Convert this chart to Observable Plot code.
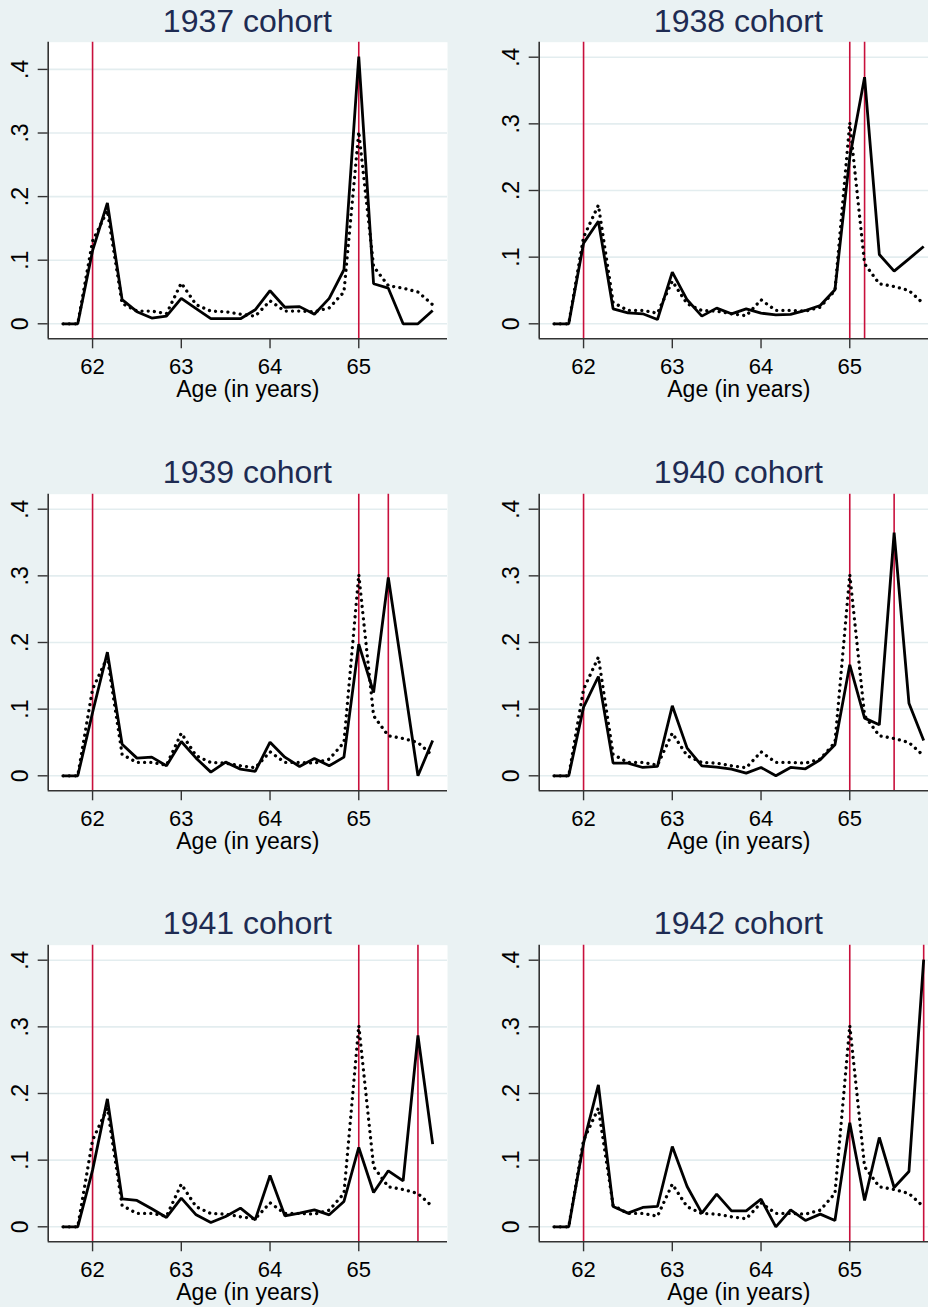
<!DOCTYPE html>
<html>
<head>
<meta charset="utf-8">
<script src="https://cdn.jsdelivr.net/npm/d3@7"></script>
<script src="https://cdn.jsdelivr.net/npm/@observablehq/plot@0.6"></script>
<style>
  html, body { margin: 0; padding: 0; }
  body { width: 928px; height: 1307px; overflow: hidden; position: relative; background: #EAF2F3;
         font-family: "Liberation Sans", Arial, sans-serif; }
  .panel { position: absolute; width: 491px; height: 451px; }
  .ttl { position: absolute; left: 47.7px; width: 399.3px; top: 4.6px; text-align: center;
         font-size: 32px; line-height: 32px; color: #1E2B52; white-space: nowrap; }
</style>
</head>
<body>
<script>
// ---- data ----
const ages = [61.667, 61.833, 62, 62.167, 62.333, 62.5, 62.667, 62.833, 63, 63.167, 63.333, 63.5, 63.667,
              63.833, 64, 64.167, 64.333, 64.5, 64.667, 64.833, 65, 65.167, 65.333, 65.5, 65.667, 65.833];
const cohorts = ["1937 cohort", "1938 cohort", "1939 cohort", "1940 cohort", "1941 cohort", "1942 cohort"];
const fullRetAge = [65, 65.167, 65.333, 65.5, 65.667, 65.833];
const earlyAge = 62;
const normalAge = 65;
const s1937 = [0, 0, 0.115, 0.19, 0.038, 0.019, 0.009, 0.012, 0.040, 0.024, 0.008, 0.008, 0.008, 0.022, 0.052,
               0.026, 0.027, 0.015, 0.040, 0.085, 0.42, 0.063, 0.056, 0, 0, 0.021];
const s1938 = [0, 0, 0.121, 0.154, 0.0225, 0.0165, 0.015, 0.0065, 0.0775, 0.036, 0.0115, 0.0235, 0.015, 0.0225,
               0.016, 0.0135, 0.014, 0.02, 0.0275, 0.051, 0.25, 0.37, 0.104, 0.079, 0.0975, 0.116];
const s1939 = [0, 0, 0.095, 0.1855, 0.0475, 0.0265, 0.028, 0.015, 0.0515, 0.0265, 0.0055, 0.0205, 0.01, 0.0065,
               0.0505, 0.028, 0.014, 0.026, 0.015, 0.028, 0.1975, 0.125, 0.2975, 0.149, 0, 0.053];
const s1940 = [0, 0, 0.103, 0.149, 0.019, 0.019, 0.0125, 0.014, 0.105, 0.0415, 0.015, 0.013, 0.01, 0.004,
               0.0125, 0, 0.0125, 0.0105, 0.024, 0.0465, 0.1665, 0.0865, 0.0765, 0.365, 0.109, 0.053];
const s1941 = [0, 0, 0.085, 0.192, 0.042, 0.0395, 0.027, 0.014, 0.043, 0.018, 0.0065, 0.0155, 0.028, 0.0105,
               0.077, 0.0165, 0.0205, 0.0255, 0.018, 0.038, 0.119, 0.0515, 0.084, 0.069, 0.287, 0.124];
const s1942 = [0, 0, 0.1255, 0.213, 0.0305, 0.0205, 0.029, 0.0305, 0.1205, 0.0605, 0.0205, 0.049, 0.024, 0.024,
               0.0415, 0, 0.0255, 0.0095, 0.019, 0.0095, 0.156, 0.0395, 0.134, 0.059, 0.083, 0.401];
const reference = [0, 0, 0.13, 0.178, 0.032, 0.02, 0.02, 0.016, 0.064, 0.03, 0.02, 0.019, 0.015, 0.012, 0.036,
                   0.02, 0.02, 0.019, 0.025, 0.05, 0.302, 0.09, 0.06, 0.056, 0.05, 0.03];
const xTicks = [62, 63, 64, 65];
const yTicks = [0, 0.1, 0.2, 0.3, 0.4];
const yTickLabels = ["0", ".1", ".2", ".3", ".4"];
const xTitle = "Age (in years)";
const series = [s1937, s1938, s1939, s1940, s1941, s1942];

// ---- layout / styling ----
const colLeft = [0, 491];
const rowTop = [0, 451.5, 902.5];
const RED = "#C8103C";
const AXIS = "#333333";
const GRID = "#E3EDEF";
const FONT = "'Liberation Sans', Arial, sans-serif";

cohorts.forEach((name, i) => {
  const row = Math.floor(i / 2), col = i % 2;
  const div = document.createElement("div");
  div.className = "panel";
  div.style.left = colLeft[col] + "px";
  div.style.top = rowTop[row] + "px";
  document.body.appendChild(div);

  const yDomain = i === 0 ? [-0.0236, 0.4428] : [-0.0225, 0.4225];
  const xDomain = [61.5, 66];
  const solid = ages.map((a, k) => ({age: a, v: series[i][k]}));
  const ref = ages.map((a, k) => ({age: a, v: reference[k]}));
  const rules = i === 0 ? [earlyAge, normalAge] : [earlyAge, normalAge, fullRetAge[i]];
  const yt = yTicks.map((t, k) => ({t, label: yTickLabels[k]}));

  const plot = Plot.plot({
    width: 491,
    height: 410,
    marginLeft: 47.7,
    marginRight: 44,
    marginTop: 41.7,
    marginBottom: 71.7,
    style: {background: "transparent", overflow: "visible", fontFamily: FONT, color: "#000"},
    x: {domain: xDomain, label: null},
    y: {domain: yDomain, label: null},
    marks: [
      Plot.frame({fill: "white", stroke: null}),
      Plot.gridY(yTicks, {stroke: GRID, strokeOpacity: 1, strokeWidth: 1.6}),
      Plot.ruleX(rules, {stroke: RED, strokeWidth: 1.6}),
      Plot.lineY(ref, {x: "age", y: "v", stroke: "#000", strokeWidth: 3.3,
                       strokeDasharray: "0.01 6.2", strokeLinecap: "round"}),
      Plot.lineY(solid, {x: "age", y: "v", stroke: "#000", strokeWidth: 2.8,
                         strokeLinejoin: "miter", strokeLinecap: "butt"}),
      Plot.ruleX([xDomain[0]], {stroke: AXIS, strokeWidth: 1.6}),
      Plot.ruleY([yDomain[0]], {stroke: AXIS, strokeWidth: 1.6}),
      Plot.axisX({ticks: xTicks, tickSize: 10, tickPadding: 9.4, fontSize: 22,
                  stroke: AXIS, strokeWidth: 1.4, label: null, tickFormat: d => String(d)}),
      Plot.axisY({ticks: yTicks, tickSize: 10, tickFormat: () => "", stroke: AXIS, strokeWidth: 1.4, label: null}),
      Plot.text(yt, {y: "t", text: "label", frameAnchor: "left", rotate: -90, textAnchor: "middle",
                     lineAnchor: "top", dx: -37, fontSize: 23, fill: "#000"}),
      Plot.text([xTitle], {frameAnchor: "bottom", text: d => d, lineAnchor: "top", dy: 42,
                           fontSize: 23, fill: "#000"})
    ]
  });
  div.appendChild(plot);

  const t = document.createElement("div");
  t.className = "ttl";
  t.textContent = name;
  div.appendChild(t);
});
</script>
</body>
</html>
